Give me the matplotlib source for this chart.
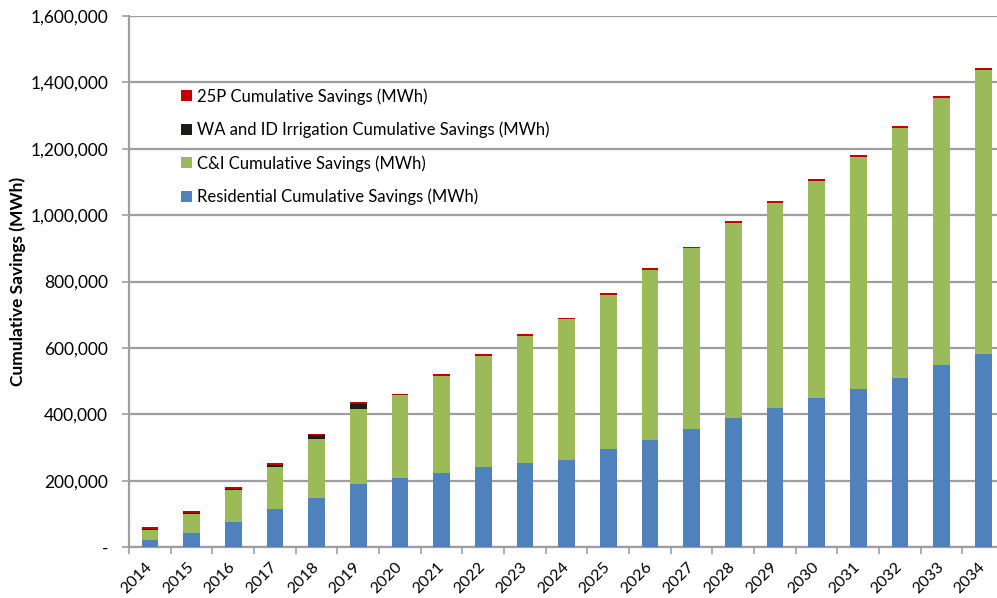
import matplotlib.pyplot as plt
import numpy as np
from matplotlib.ticker import FuncFormatter, FixedLocator


# Cumulative savings by sector, MWh
years = [str(y) for y in range(2014, 2035)]
residential = [20000, 41000, 75000, 113000, 148000, 190000, 208000, 224000, 241000, 254000, 262000,
               295000, 323000, 355000, 390000, 420000, 448000, 477000, 510000, 549000, 582000]
commercial = [30000, 59000, 96000, 128000, 176000, 226000, 249000, 291000, 336000, 382000, 424000,
              465000, 512000, 545000, 586000, 618000, 656000, 698000, 753000, 804000, 856000]
irrigation = [4000, 3000, 4000, 7000, 12000, 16000, 0, 0, 0, 0, 0,
              0, 0, 0, 0, 0, 0, 0, 0, 0, 0]
p25 = [5000] * 21

BLUE = '#4F81BD'
GREEN = '#9BBB59'
BLACK = '#1E1A14'
RED = '#C00000'
GRID = '#9E9E9E'
FS = 12.5

plt.rcParams['font.family'] = ['Lato', 'DejaVu Sans']

fig = plt.figure(figsize=(9.97, 5.98), dpi=100)
ax = fig.add_axes([129 / 997, 51 / 598, 875 / 997, 531 / 598])

x = np.arange(len(years))
w = 0.4
res = np.array(residential)
ci = np.array(commercial)
wa = np.array(irrigation)
b1 = ax.bar(x, res, w, color=BLUE, zorder=3)
b2 = ax.bar(x, ci, w, bottom=res, color=GREEN, zorder=3)
b3 = ax.bar(x, wa, w, bottom=res + ci, color=BLACK, zorder=3)
b4 = ax.bar(x, p25, w, bottom=res + ci + wa, color=RED, zorder=3)

ax.set_xlim(-0.5, len(years) - 0.5)
ax.set_ylim(0, 1600000)
ax.set_yticks(np.arange(0, 1600001, 200000))
ax.yaxis.set_major_formatter(FuncFormatter(lambda v, p: '-' if v == 0 else f'{int(v):,}'))
ax.grid(axis='y', color=GRID, linewidth=1.6, zorder=0)

# category boundaries get the tick marks, labels sit at the centres
ax.set_xticks(x)
ax.set_xticklabels(years, rotation=45, ha='right', va='center', rotation_mode='anchor', fontsize=11.5)
ax.xaxis.set_minor_locator(FixedLocator(np.arange(-0.5, len(years), 1)))
ax.tick_params(axis='x', which='major', length=0, pad=13)
ax.tick_params(axis='x', which='minor', length=5, width=1.2, color=GRID)
ax.tick_params(axis='y', length=5, width=1.2, color=GRID, labelsize=FS, pad=10)

for s in ['top', 'right']:
    ax.spines[s].set_visible(False)
for s in ['left', 'bottom']:
    ax.spines[s].set_color(GRID)
    ax.spines[s].set_linewidth(1.6)

ax.set_ylabel('Cumulative Savings (MWh)', fontsize=FS, fontweight='bold')
ax.yaxis.set_label_coords(-103 / 875, 0.5)

ax.legend([b4, b3, b2, b1],
          ['25P Cumulative Savings (MWh)', 'WA and ID Irrigation Cumulative Savings (MWh)',
           'C&I Cumulative Savings (MWh)', 'Residential Cumulative Savings (MWh)'],
          loc='upper left', bbox_to_anchor=(181 / 997, 1 - 88 / 598), bbox_transform=fig.transFigure,
          frameon=False, fontsize=12, handlelength=0.65, handleheight=0.65,
          handletextpad=0.3, labelspacing=1.02, borderaxespad=0, borderpad=0)

fig.savefig('out.png', dpi=100)
